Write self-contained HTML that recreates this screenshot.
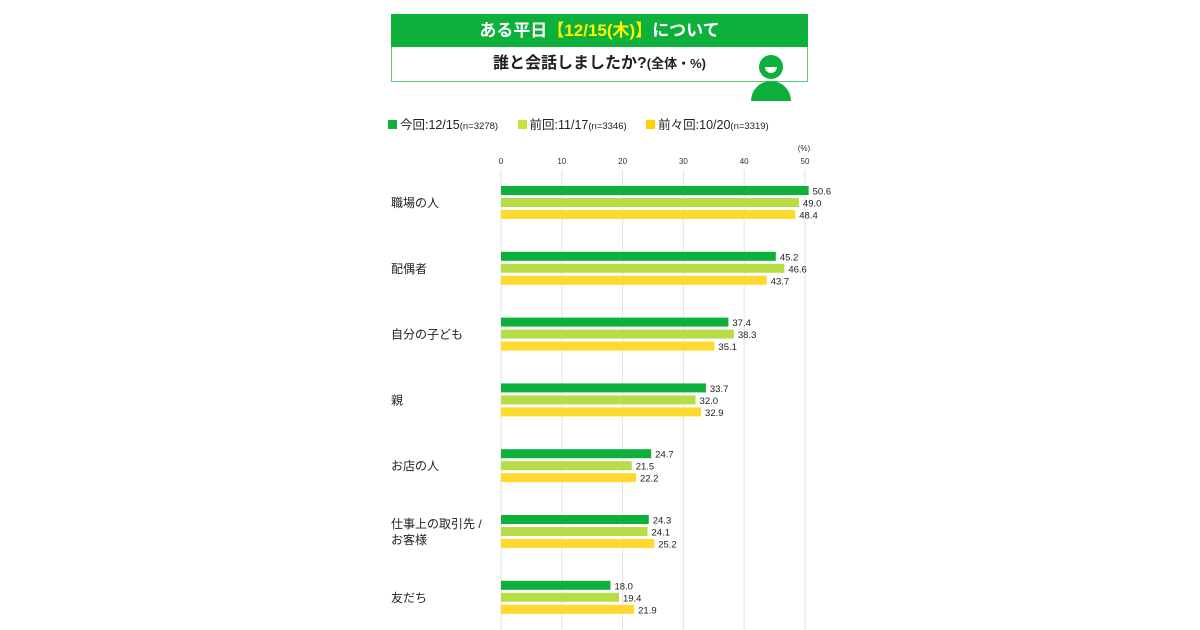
<!DOCTYPE html>
<html><head><meta charset="utf-8">
<style>
body{margin:0;background:#fff;font-family:"Liberation Sans","Noto Sans CJK JP",sans-serif;}
#root{position:relative;width:1200px;height:630px;overflow:hidden;background:#fff;}
.abs{position:absolute;}
</style></head>
<body>
<div id="root">
  <div class="abs" style="left:391px;top:14px;width:417px;height:33px;background:#0cb03a;color:#fff;font-size:17px;font-weight:bold;text-align:center;line-height:33px;">ある平日<span style="color:#fff200">【12/15(木)】</span>について</div>
  <div class="abs" style="left:391px;top:47px;width:415px;height:34px;border:1px solid #5fcc78;border-top:none;color:#222;font-size:16px;font-weight:bold;text-align:center;line-height:34px;">誰と会話しましたか?<span style="font-size:13px">(全体・%)</span></div>
  <svg class="abs" style="left:748px;top:52px" width="46" height="50">
    <path d="M3,49 A20,20 0 0 1 43,49 Z" fill="#0cb03a"/>
    <circle cx="23" cy="15" r="12" fill="#0cb03a"/>
    <path d="M17,15 A6,6 0 0 0 29,15 Z" fill="#fff"/>
  </svg>
  <div class="abs" style="left:388px;top:114px;font-size:12.5px;color:#222;white-space:nowrap;">
    <span><span style="display:inline-block;width:9px;height:9px;background:#0cb03a;margin-right:3px"></span>今回:12/15<span style="font-size:9.5px">(n=3278)</span></span>
    <span style="margin-left:16px"><span style="display:inline-block;width:9px;height:9px;background:#c3e23c;margin-right:3px"></span>前回:11/17<span style="font-size:9.5px">(n=3346)</span></span>
    <span style="margin-left:16px"><span style="display:inline-block;width:9px;height:9px;background:#ffcf00;margin-right:3px"></span>前々回:10/20<span style="font-size:9.5px">(n=3319)</span></span>
  </div>
  <svg id="chart" class="abs" style="left:0;top:0" width="1200" height="630"></svg>
</div>
<script>
const categories=["職場の人","配偶者","自分の子ども","親","お店の人","仕事上の取引先 /\nお客様","友だち"];
const current=[50.6,45.2,37.4,33.7,24.7,24.3,18.0];
const previous=[49.0,46.6,38.3,32.0,21.5,24.1,19.4];
const beforePrevious=[48.4,43.7,35.1,32.9,22.2,25.2,21.9];
const ticks=[0,10,20,30,40,50];
const NS="http://www.w3.org/2000/svg";
const svg=document.getElementById('chart');
const x=v=>501+v*6.08;
const gy=i=>186+i*65.8;
function mk(t,a){const e=document.createElementNS(NS,t);for(const k in a)e.setAttribute(k,a[k]);svg.appendChild(e);return e;}
ticks.forEach(t=>{
  const l=mk('line',{x1:x(t),x2:x(t),y1:170,y2:630,stroke:'#e3e3e3','stroke-width':1});
  
  
  const tx=mk('text',{x:x(t),y:164,'font-size':8,'text-anchor':'middle',fill:'#333'});
  tx.textContent=t;
  
  
});
const u=mk('text',{x:x(50)-1,y:151,'font-size':8,'text-anchor':'middle',fill:'#333'});u.textContent='(%)';


const series=[[current,'#0cb03a','current'],[previous,'#b6dd45','previous'],[beforePrevious,'#ffd92e','before-previous']];
categories.forEach((c,i)=>{
  const lines=c.split('\n');
  lines.forEach((ln,j)=>{
    const t=mk('text',{x:391,y:gy(i)+21+(lines.length>1?(j*16-8):0),'font-size':12,fill:'#222'});
    t.textContent=ln;
    
    
  });
  series.forEach((s,k)=>{
    const v=s[0][i];const y=gy(i)+k*12;
    const r=mk('rect',{x:x(0),y:y,width:x(v)-x(0),height:9,fill:s[1]});
    
    
    const t=mk('text',{x:x(v)+4,y:y+8.5,'font-size':9.5,fill:'#222'});
    t.textContent=v.toFixed(1);
    
    
  });
});
</script>
</body></html>
